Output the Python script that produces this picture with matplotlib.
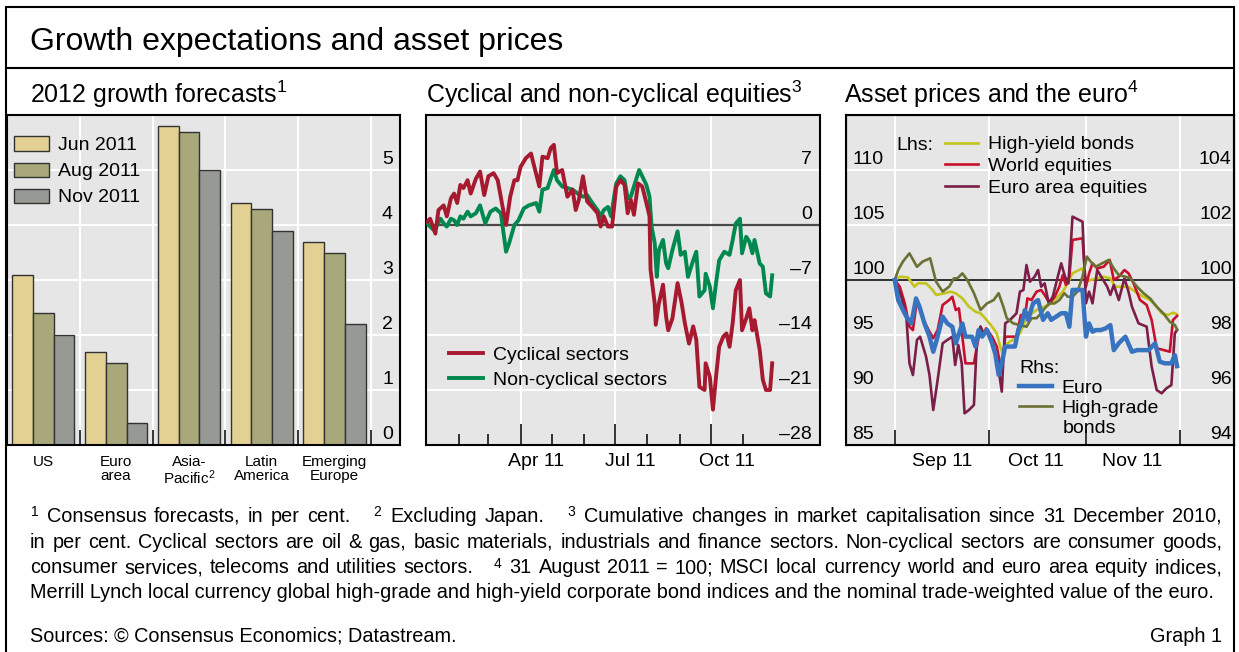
import numpy as np
import pandas as pd
import matplotlib
matplotlib.use('Agg')
import matplotlib.pyplot as plt
from matplotlib.patches import Rectangle
from matplotlib.lines import Line2D

plt.rcParams['font.family'] = ['Liberation Sans', 'DejaVu Sans']
plt.rcParams['mathtext.fontset'] = 'custom'
plt.rcParams['mathtext.rm'] = 'Liberation Sans'
plt.rcParams['mathtext.it'] = 'Liberation Sans'
plt.rcParams['mathtext.bf'] = 'Liberation Sans'

# ---- Panel 1: 2012 growth forecasts (per cent)
regions = ['US', 'Euro\narea', 'Asia-\nPacific$^2$', 'Latin\nAmerica', 'Emerging\nEurope']
jun_2011 = [3.1, 1.7, 5.8, 4.4, 3.7]
aug_2011 = [2.4, 1.5, 5.7, 4.3, 3.5]
nov_2011 = [2.0, 0.4, 5.0, 3.9, 2.2]

# ---- Panel 2: cumulative change since 31 Dec 2010 (days counted from 1 Jan 2011)
cyc_days = [0, 3, 8, 11, 16, 19, 23, 26, 29, 32, 35, 39, 42, 47, 51, 55, 59, 64, 68, 72,
            76, 80, 84, 87, 90, 95, 100, 104, 108, 111, 116, 119, 122, 125, 130, 135, 140, 143, 146, 150,
            154, 159, 164, 167, 170, 174, 178, 182, 186, 190, 193, 196, 199, 203, 207, 211, 214, 215, 219, 220,
            223, 227, 230, 232, 236, 241, 245, 248, 252, 256, 259, 262, 267, 268, 272, 275, 278, 281, 285, 288,
            291, 294, 297, 301, 303, 307, 310, 313, 315, 320, 323, 326, 330, 332]
cyclical = [0.4, 0.8, -1.1, 1.9, 2.5, 1.1, 3.4, 4.0, 2.8, 5.1, 4.7, 5.7, 4.0, 5.9, 6.8, 3.8, 6.2, 6.6, 5.7, 2.8,
            0.0, 3.6, 5.7, 5.7, 7.4, 8.5, 9.1, 7.0, 4.9, 8.7, 8.5, 9.8, 10.2, 6.6, 7.0, 3.6, 4.5, 1.9, 3.2, 6.2,
            3.0, 2.3, 1.5, -0.2, 1.1, -0.2, -0.2, 4.9, 5.7, 5.1, 1.5, 3.2, 1.3, 5.3, 4.9, 2.8, 1.1, -5.7, -10.0, -12.7,
            -10.0, -7.6, -11.7, -13.4, -11.9, -7.4, -10.0, -12.5, -15.1, -12.9, -14.6, -20.6, -21.0, -17.6, -19.3,
            -23.5, -19.3, -15.5, -14.2, -13.8, -15.5, -12.5, -8.3, -7.0, -13.4, -11.9, -10.6, -13.4, -12.1, -15.9,
            -19.7, -21.0, -21.0, -17.6]
non_days = [0, 3, 6, 10, 13, 16, 19, 23, 26, 29, 32, 35, 39, 42, 47, 51, 56, 61, 66, 71,
            76, 79, 84, 88, 93, 98, 105, 108, 111, 116, 119, 122, 125, 130, 135, 140, 145, 150, 154, 159,
            164, 167, 170, 174, 177, 182, 186, 190, 193, 196, 199, 204, 207, 211, 214, 216, 219, 221, 223, 227,
            230, 232, 236, 241, 244, 248, 251, 256, 259, 262, 267, 268, 272, 275, 278, 281, 286, 291, 294, 297,
            301, 303, 307, 310, 313, 315, 320, 323, 326, 330, 332]
non_cyclical = [0.2, -0.2, -0.6, 0.0, 0.8, 0.2, -0.2, 0.8, 0.6, 0.0, 1.1, 0.8, 1.7, 1.1, 1.5, 2.5, 0.2, 1.7, 2.1, 1.5,
                -3.4, -2.3, 0.0, 0.6, 2.1, 2.5, 2.8, 1.7, 4.5, 4.7, 5.9, 7.0, 5.7, 4.9, 4.7, 4.5, 4.0, 3.6, 3.8, 2.8,
                1.9, 1.1, 1.9, 2.3, 1.1, 5.3, 6.2, 5.7, 3.4, 3.6, 4.9, 7.0, 6.2, 5.1, 3.6, -0.2, -2.3, -6.6, -3.2, -1.9,
                -4.9, -5.5, -3.2, -0.8, -3.8, -3.4, -6.6, -4.5, -3.4, -9.1, -8.3, -6.2, -7.8, -10.6, -7.4, -4.5, -3.4,
                -3.8, -1.9, 0.2, 0.8, -3.6, -1.5, -2.1, -3.6, -1.9, -4.9, -5.3, -8.7, -9.1, -6.4]

# ---- Panel 3: 31 Aug 2011 = 100 (days counted from 1 Sep 2011)
hy_days = [0.0, 1.6, 4.2, 6.3, 7.4, 10.0, 12.1, 13.2, 15.8, 17.9, 19.5, 21.6, 23.7, 25.8, 27.4, 28.9, 31.1,
           32.6, 33.7, 34.4, 35.3, 36.8, 38.4, 40.0, 41.6, 43.2, 45.3, 47.9, 50.0, 52.1, 53.7, 55.3, 56.8, 58.9,
           60.0, 61.1, 62.6, 64.7, 66.8, 68.9, 70.5, 72.6, 74.7, 76.8, 79.5, 81.6, 83.7, 85.3, 87.4, 88.9, 90.2]
high_yield = [100.0, 100.30, 100.24, 99.39, 99.70, 99.70, 99.09, 98.64, 98.79, 98.94, 98.79, 98.33, 97.58, 97.12,
              96.97, 96.52, 95.76, 95.15, 93.94, 93.33, 94.09, 94.39, 94.70, 95.15, 96.21, 96.82, 97.27, 97.58,
              97.88, 98.48, 98.94, 99.70, 100.61, 100.91, 101.06, 99.85, 100.00, 100.15, 100.30, 100.15, 99.39,
              99.39, 99.39, 98.94, 98.48, 98.18, 97.58, 96.97, 96.82, 97.03, 96.88]
we_days = [0.0, 1.6, 3.2, 4.7, 5.8, 7.1, 8.9, 11.1, 12.3, 13.7, 15.3, 17.4, 18.4, 19.5, 20.5, 21.6, 22.6, 25.3,
           27.4, 28.1, 29.2, 31.1, 32.6, 34.2, 35.3, 36.8, 38.9, 40.3, 41.6, 42.4, 43.7, 45.3, 46.8, 47.9, 49.5,
           51.1, 52.6, 53.7, 54.7, 55.8, 56.8, 60.0, 61.1, 62.1, 63.2, 64.7, 66.8, 68.7, 70.0, 71.6, 73.4, 74.7,
           76.3, 78.4, 80.5, 82.1, 83.7, 85.8, 87.9, 88.9, 90.2]
world_equities = [100.0, 99.39, 97.88, 95.76, 95.45, 98.18, 96.52, 95.30, 94.70, 95.45, 97.73, 98.18, 98.48, 97.27,
                  97.42, 94.85, 92.42, 92.42, 95.76, 94.85, 95.61, 94.85, 93.94, 91.67, 94.85, 94.85, 94.85, 96.82,
                  96.67, 98.33, 98.18, 98.94, 99.09, 98.64, 97.88, 98.48, 99.39, 100.45, 99.55, 100.30, 103.64,
                  103.79, 99.39, 100.61, 101.52, 101.06, 101.21, 101.82, 100.00, 100.30, 100.91, 100.61, 99.70,
                  98.18, 97.73, 96.36, 93.79, 93.64, 93.48, 96.36, 96.73]
ea_days = [0.0, 2.1, 3.7, 4.7, 5.8, 7.1, 8.1, 10.0, 11.1, 12.3, 13.7, 15.3, 16.8, 18.4, 19.3, 20.3, 21.4, 22.3,
           23.7, 25.3, 26.3, 27.4, 28.4, 29.5, 31.1, 32.6, 34.2, 35.3, 36.8, 38.9, 40.0, 41.1, 42.1, 43.2, 44.7,
           45.8, 46.8, 47.9, 49.2, 50.5, 52.1, 53.2, 54.4, 55.5, 56.8, 60.0, 61.1, 62.1, 63.2, 64.7, 66.3, 67.9,
           68.9, 70.0, 71.6, 73.4, 74.7, 75.8, 77.9, 80.5, 82.1, 83.7, 85.3, 86.8, 88.4, 89.5, 90.2]
euro_area_equities = [100.0, 98.48, 96.67, 92.42, 91.36, 94.55, 94.85, 93.03, 91.36, 88.18, 90.91, 94.24, 94.55,
                      94.85, 92.27, 94.09, 92.42, 87.88, 88.18, 88.64, 94.85, 95.76, 95.15, 95.45, 94.24, 93.03,
                      89.85, 96.06, 96.36, 96.97, 98.94, 99.09, 101.36, 99.85, 100.30, 100.91, 99.39, 99.70, 97.88,
                      98.48, 100.30, 101.52, 100.30, 99.70, 105.76, 105.30, 97.88, 98.94, 97.88, 100.91, 100.15,
                      99.39, 98.64, 99.55, 98.18, 100.15, 98.94, 97.58, 96.06, 95.76, 92.12, 90.00, 89.70, 90.15,
                      90.45, 95.15, 95.45]
euro_days = [0.0, 1.1, 2.1, 3.7, 5.3, 6.8, 7.9, 9.5, 11.1, 12.3, 13.4, 15.3, 16.8, 18.4, 19.5, 21.6, 22.6, 24.7,
             25.8, 26.8, 27.9, 29.5, 31.1, 32.1, 33.2, 34.2, 35.3, 36.8, 38.4, 39.5, 40.5, 41.6, 42.6, 44.2, 45.8,
             47.4, 48.9, 50.0, 51.6, 53.2, 54.7, 55.8, 56.8, 58.9, 60.0, 61.1, 62.1, 63.2, 64.2, 65.8, 67.4, 68.9,
             70.0, 71.6, 73.7, 75.8, 77.4, 78.9, 81.1, 83.2, 84.7, 86.3, 88.4, 89.5, 90.2]
euro = [100.0, 99.27, 99.03, 98.67, 98.42, 99.33, 99.03, 98.42, 97.94, 97.39, 97.82, 98.67, 98.42, 98.30, 97.70,
        98.42, 97.94, 97.94, 97.58, 98.18, 97.94, 98.18, 97.70, 97.33, 96.55, 96.97, 97.58, 97.58, 97.58, 98.18,
        98.42, 98.91, 98.55, 99.15, 99.27, 98.55, 98.79, 98.55, 98.67, 98.79, 98.79, 98.30, 99.64, 99.64, 99.64,
        97.94, 98.42, 98.12, 98.18, 98.18, 98.24, 98.36, 97.45, 97.70, 97.94, 97.39, 97.45, 97.45, 97.45, 97.70,
        97.03, 96.97, 96.97, 97.27, 96.87]
hg_days = [0.0, 1.1, 2.6, 4.7, 7.1, 8.9, 11.3, 13.2, 15.3, 17.4, 18.9, 20.0, 21.6, 23.2, 25.3, 27.4, 29.5, 31.6,
           33.2, 34.7, 35.8, 37.9, 40.0, 42.1, 43.7, 45.3, 46.8, 47.9, 49.5, 51.1, 52.6, 54.2, 55.3, 56.8, 58.4,
           60.0, 61.4, 62.6, 64.2, 66.3, 68.4, 70.0, 71.6, 73.7, 75.3, 77.4, 79.5, 81.6, 83.7, 85.8, 87.9, 89.5, 90.2]
high_grade = [100.0, 100.36, 100.67, 100.97, 100.48, 100.67, 100.79, 99.94, 99.58, 99.76, 100.06, 100.06, 100.24,
              100.00, 99.52, 98.91, 99.15, 99.27, 99.52, 99.03, 98.61, 98.42, 98.36, 98.30, 98.61, 98.61, 98.79,
              98.97, 99.15, 99.15, 99.27, 99.52, 99.39, 99.39, 99.58, 100.12, 100.85, 100.67, 100.48, 100.61,
              100.73, 100.42, 100.18, 100.12, 100.06, 99.76, 99.52, 99.33, 99.03, 98.79, 98.48, 98.36, 98.21]

# colours
c_jun, c_aug, c_nov = '#E3D193', '#A8A87A', '#979995'
c_cyc, c_non = '#A6192E', '#00884F'
c_hy, c_we, c_ea, c_eur, c_hg = '#C4C51B', '#C8102E', '#7A1F4A', '#3873BF', '#6B7134'
bg = '#E6E6E6'

W, H = 1239, 652
fig = plt.figure(figsize=(W / 100, H / 100), dpi=100)


def rect(x0, y0, x1, y1):
    return [x0 / W, 1 - y1 / H, (x1 - x0) / W, (y1 - y0) / H]


def style_axes(ax):
    ax.set_facecolor(bg)
    for s in ax.spines.values():
        s.set_linewidth(1.5)
    ax.set_axisbelow(True)
    ax.tick_params(axis='y', length=0, labelleft=False, labelright=False)


def ylabel_text(ax, values, labels, xpos, ha):
    for v, t in zip(values, labels):
        ax.annotate(t, (xpos, v), xycoords=('axes fraction', 'data'), xytext=(0, 1.5),
                    textcoords='offset points', ha=ha, va='bottom', fontsize=14)


def month_labels(ax, dates, labels):
    for d, t in zip(dates, labels):
        ax.annotate(t, (d, 0), xycoords=('data', 'axes fraction'), xytext=(0, -6),
                    textcoords='offset points', ha='center', va='top', fontsize=14)


# frame and title
fig.add_artist(Rectangle((6 / W, -0.1), (1234 - 6) / W, 1 - 7 / H + 0.1, transform=fig.transFigure,
                         fill=False, lw=1.5, ec='black'))
fig.add_artist(Line2D([6 / W, 1234 / W], [1 - 68 / H] * 2, transform=fig.transFigure, lw=1.5, color='black'))
fig.text(30 / W, 1 - 50 / H, 'Growth expectations and asset prices', fontsize=23, va='baseline')

# ---------------- Panel 1
ax1 = fig.add_axes(rect(7, 115, 400, 445))
style_axes(ax1)
x = np.arange(len(regions))
bw = 0.284
for i, (vals, col, lab) in enumerate([(jun_2011, c_jun, 'Jun 2011'), (aug_2011, c_aug, 'Aug 2011'),
                                      (nov_2011, c_nov, 'Nov 2011')]):
    ax1.bar(x + (i - 1) * bw, vals, bw, color=col, edgecolor='#333333', lw=1, label=lab)
ax1.set_xlim(-0.5, 4.9)
ax1.set_ylim(0, 6)
ax1.set_yticks([1, 2, 3, 4, 5])
ax1.set_xticks(x)
ax1.set_xticklabels(regions, fontsize=11, linespacing=1.0)
ax1.set_xticks(list(x + 0.5), minor=True)
ax1.tick_params(axis='x', which='major', length=0, pad=7)
ax1.tick_params(axis='x', which='minor', direction='in', length=10.5, width=1.1)
ax1.grid(axis='y', which='major', color='white', lw=1.5)
ax1.grid(axis='x', which='minor', color='white', lw=1.5)
ylabel_text(ax1, [0, 1, 2, 3, 4, 5], ['0', '1', '2', '3', '4', '5'], 0.982, 'right')
ax1.legend(loc='upper left', bbox_to_anchor=(0.018, 0.935), frameon=False, fontsize=14, handlelength=1.8,
           handleheight=0.75, handletextpad=0.45, labelspacing=0.42, borderpad=0, borderaxespad=0)
fig.text(30 / W, 1 - 103.5 / H, '2012 growth forecasts$^1$', fontsize=18, va='baseline')

# ---------------- Panel 2
ax2 = fig.add_axes(rect(426, 115, 820, 445))
style_axes(ax2)
base2 = pd.Timestamp('2011-01-01')
ax2.plot(base2 + pd.to_timedelta(non_days, unit='D'), non_cyclical, color=c_non, lw=2.8,
         label='Non-cyclical sectors', zorder=3)
ax2.plot(base2 + pd.to_timedelta(cyc_days, unit='D'), cyclical, color=c_cyc, lw=2.8,
         label='Cyclical sectors', zorder=3)
ax2.axhline(0, color='#4a4a4a', lw=1.6, zorder=2)
ax2.set_ylim(-28, 14)
ax2.set_yticks([-21, -14, -7, 7])
ax2.set_xlim(pd.Timestamp('2010-12-31'), pd.Timestamp('2012-01-14'))
ax2.set_xticks(pd.to_datetime(['2011-04-01', '2011-07-01', '2011-10-01']))
ax2.set_xticklabels([])
ax2.set_xticks(pd.to_datetime(['2011-02-01', '2011-03-01', '2011-05-01', '2011-06-01', '2011-08-01',
                               '2011-09-01', '2011-11-01']), minor=True)
ax2.tick_params(axis='x', which='major', direction='in', length=15, width=1.1)
ax2.tick_params(axis='x', which='minor', direction='in', length=8, width=1.1)
ax2.grid(axis='y', color='white', lw=1.5)
ax2.grid(axis='x', which='major', color='white', lw=1.5)
ylabel_text(ax2, [-28, -21, -14, -7, 0, 7], ['\u201328', '\u201321', '\u201314', '\u20137', '0', '7'],
            0.979, 'right')
month_labels(ax2, pd.to_datetime(['2011-04-16', '2011-07-16', '2011-10-16']), ['Apr 11', 'Jul 11', 'Oct 11'])
h, l = ax2.get_legend_handles_labels()
ax2.legend(h[::-1], l[::-1], loc='upper left', bbox_to_anchor=(0.058, 0.30), frameon=False, fontsize=14,
           handlelength=1.75, handletextpad=0.5, labelspacing=0.38, borderpad=0, borderaxespad=0)
fig.text(426 / W, 1 - 103.5 / H, 'Cyclical and non-cyclical equities$^3$', fontsize=18, va='baseline')

# ---------------- Panel 3
ax3 = fig.add_axes(rect(846, 115, 1234, 445))
style_axes(ax3)
ax3r = ax3.twinx()
ax3r.set_facecolor('none')
ax3r.tick_params(axis='y', length=0, labelright=False)
base3 = pd.Timestamp('2011-09-01')
l_hy, = ax3.plot(base3 + pd.to_timedelta(hy_days, unit='D'), high_yield, color=c_hy, lw=1.9, zorder=3)
l_we, = ax3.plot(base3 + pd.to_timedelta(we_days, unit='D'), world_equities, color=c_we, lw=1.9, zorder=3)
l_ea, = ax3.plot(base3 + pd.to_timedelta(ea_days, unit='D'), euro_area_equities, color=c_ea, lw=1.9, zorder=3)
l_hg, = ax3r.plot(base3 + pd.to_timedelta(hg_days, unit='D'), high_grade, color=c_hg, lw=1.9)
l_eu, = ax3r.plot(base3 + pd.to_timedelta(euro_days, unit='D'), euro, color=c_eur, lw=3.2)
ax3.axhline(100, color='#222222', lw=1.3, zorder=2)
ax3.set_ylim(85, 115)
ax3r.set_ylim(94, 106)
ax3.set_yticks([90, 95, 105, 110])
ax3r.set_yticks([])
ax3.set_xlim(pd.Timestamp('2011-08-16 10:00'), pd.Timestamp('2011-12-18 10:00'))
ax3.set_xticks(pd.to_datetime(['2011-09-01', '2011-10-01', '2011-11-01', '2011-12-01']))
ax3.set_xticklabels([])
ax3.tick_params(axis='x', which='major', direction='in', length=11, width=1.1)
ax3.grid(axis='both', color='white', lw=1.5)
ylabel_text(ax3, [85, 90, 95, 100, 105, 110], ['85', '90', '95', '100', '105', '110'], 0.017, 'left')
ylabel_text(ax3r, [94, 96, 98, 100, 102, 104], ['94', '96', '98', '100', '102', '104'], 0.994, 'right')
month_labels(ax3, pd.to_datetime(['2011-09-16', '2011-10-16', '2011-11-16']), ['Sep 11', 'Oct 11', 'Nov 11'])
leg1 = ax3r.legend([l_hy, l_we, l_ea], ['High-yield bonds', 'World equities', 'Euro area equities'],
                   loc='upper left', bbox_to_anchor=(0.255, 0.937), frameon=False, fontsize=14,
                   handlelength=1.7, handletextpad=0.5, labelspacing=0.22, borderpad=0, borderaxespad=0)
ax3r.add_artist(leg1)
ax3r.text(0.131, 0.908, 'Lhs:', transform=ax3r.transAxes, fontsize=14, va='center')
ax3r.text(0.446, 0.233, 'Rhs:', transform=ax3r.transAxes, fontsize=14, va='center')
ax3r.legend([l_eu, l_hg], ['Euro', 'High-grade'], loc='upper left', bbox_to_anchor=(0.446, 0.199),
            frameon=False, fontsize=14, handlelength=1.7, handletextpad=0.5, labelspacing=0.12,
            borderpad=0, borderaxespad=0)
ax3r.text(0.559, 0.05, 'bonds', transform=ax3r.transAxes, fontsize=14, va='center')
fig.text(844 / W, 1 - 103.5 / H, 'Asset prices and the euro$^4$', fontsize=18, va='baseline')

# ---------------- Footnotes (first three lines justified to the right margin)
notes = [
    '$^1$ Consensus forecasts, in per cent.   $^2$ Excluding Japan.   $^3$ Cumulative changes in market '
    'capitalisation since 31 December 2010,',
    'in per cent. Cyclical sectors are oil & gas, basic materials, industrials and finance sectors. '
    'Non-cyclical sectors are consumer goods,',
    'consumer services, telecoms and utilities sectors.   $^4$ 31 August 2011 = 100; MSCI local currency '
    'world and euro area equity indices,',
    'Merrill Lynch local currency global high-grade and high-yield corporate bond indices and the nominal '
    'trade-weighted value of the euro.',
]
renderer = fig.canvas.get_renderer()


def justified(line, y, x0=30, x1=1222, size=14.3):
    words = line.split(' ')
    widths = []
    for w in words:
        if w:
            t = fig.text(0, 0, w, fontsize=size)
            widths.append(t.get_window_extent(renderer).width)
            t.remove()
        else:
            widths.append(0)
    gap = (x1 - x0 - sum(widths)) / (len(words) - 1)
    xp = x0
    for w, wd in zip(words, widths):
        if w:
            fig.text(xp / W, 1 - y / H, w, fontsize=size, va='baseline')
        xp += wd + gap


for i, t in enumerate(notes):
    y = 522 + 25.5 * i
    if i < 3:
        justified(t, y)
    else:
        fig.text(30 / W, 1 - y / H, t, fontsize=14.3, va='baseline')
fig.text(30 / W, 1 - 642 / H, 'Sources: \u00a9 Consensus Economics; Datastream.', fontsize=14.3, va='baseline')
fig.text(1222 / W, 1 - 642 / H, 'Graph 1', fontsize=14.3, va='baseline', ha='right')

fig.savefig('out.png', dpi=100)
